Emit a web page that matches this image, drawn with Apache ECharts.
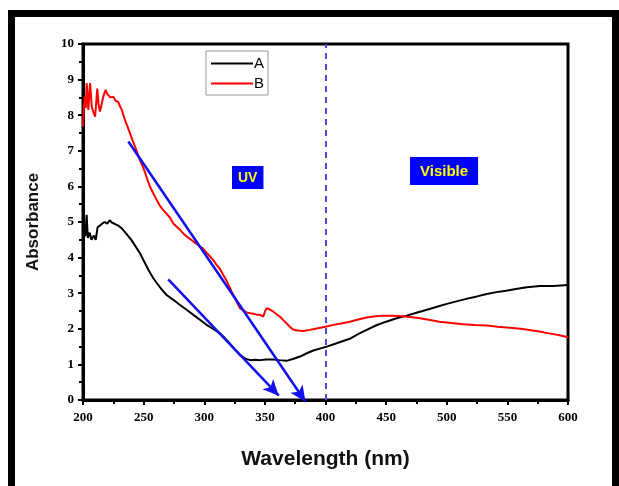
<!DOCTYPE html>
<html>
<head>
<meta charset="utf-8">
<script src="https://cdn.jsdelivr.net/npm/echarts@6/dist/echarts.min.js"></script>
<style>
  html, body { margin: 0; padding: 0; background: #fff; }
  #main { width: 619px; height: 486px; }
</style>
</head>
<body>
<div id="main"></div>
<script>
// curve A (black) - wavelength, absorbance
var curveA = [
  [200, 4.45], [201, 4.75], [202, 4.6], [203, 5.2], [204, 4.55], [205.5, 4.7], [207, 4.5],
  [209, 4.62], [210.5, 4.5], [212, 4.85], [214, 4.9], [216, 4.96], [218, 5.0], [220, 4.95],
  [222, 5.05], [224, 4.98], [226, 4.95], [229, 4.9], [232, 4.82], [236, 4.66], [240, 4.49],
  [244, 4.28], [247, 4.12], [250, 3.92], [254, 3.65], [258, 3.42], [261, 3.28], [265, 3.1],
  [269, 2.95], [275, 2.8], [280, 2.67], [286, 2.52], [291, 2.39], [297, 2.24], [302, 2.11],
  [308, 1.98], [313, 1.87], [317, 1.74], [321, 1.59], [325, 1.43], [329.5, 1.26], [334, 1.16],
  [338, 1.12], [342, 1.13], [346, 1.12], [351, 1.14], [357, 1.14], [362, 1.12], [368, 1.1],
  [373, 1.15], [379, 1.22], [385, 1.32], [390, 1.39], [396, 1.45], [401, 1.5], [408, 1.58],
  [414, 1.65], [420, 1.72], [428, 1.87], [434, 1.97], [442, 2.1], [450, 2.2], [458, 2.29],
  [467, 2.37], [475, 2.45], [483, 2.53], [492, 2.62], [500, 2.7], [508, 2.77], [516, 2.84],
  [525, 2.91], [533, 2.98], [541, 3.03], [549, 3.07], [557, 3.12], [566, 3.17], [577, 3.2],
  [588, 3.2], [600, 3.23]
];
// curve B (red)
var curveB = [
  [200, 7.68], [200.8, 8.3], [201.6, 8.52], [202.3, 8.2], [203, 8.9], [203.7, 8.6], [204.4, 8.15],
  [205.1, 8.5], [205.8, 8.9], [206.5, 8.6], [207.2, 8.24], [208.4, 8.1], [210, 7.96], [211, 8.4],
  [211.8, 8.75], [212.8, 8.3], [214, 8.1], [215.3, 8.3], [216.7, 8.52], [218, 8.65], [218.7, 8.71],
  [220, 8.6], [220.9, 8.61], [222.5, 8.5], [224, 8.45], [225, 8.52], [227, 8.4], [229, 8.38],
  [230.5, 8.25], [232, 8.15], [233.5, 7.98], [234.6, 7.87], [236.5, 7.7], [238.8, 7.49],
  [240.8, 7.3], [242.9, 7.12], [245, 6.92], [247, 6.74], [249, 6.58], [251, 6.41], [253, 6.2],
  [255.3, 5.99], [258, 5.8], [260.8, 5.62], [263.5, 5.45], [266, 5.34], [268.5, 5.25],
  [271.8, 5.12], [274.5, 4.96], [277.5, 4.86], [280, 4.78], [282.7, 4.68], [286, 4.58],
  [288.5, 4.52], [291, 4.45], [294, 4.38], [296.5, 4.3], [299, 4.26], [301.5, 4.15],
  [304, 4.06], [307.5, 3.93], [310, 3.8], [313, 3.68], [315.7, 3.51], [318, 3.38], [320.5, 3.2],
  [322.6, 3.04], [325, 2.88], [327.5, 2.7], [329.5, 2.58], [332, 2.52], [335, 2.46],
  [337.7, 2.44], [340.5, 2.42], [343, 2.4], [346, 2.39], [348.7, 2.34], [350.2, 2.5],
  [351.5, 2.58], [353.5, 2.55], [357, 2.48], [360, 2.4], [362.5, 2.34], [365, 2.25],
  [368, 2.15], [371, 2.04], [373.4, 1.98], [377, 1.95], [381.7, 1.94], [387, 1.97],
  [392.7, 2.01], [400, 2.06], [406.4, 2.11], [413, 2.15], [420, 2.2], [427, 2.26], [434, 2.32],
  [441, 2.35], [447.7, 2.37], [454, 2.37], [461, 2.36], [468, 2.34], [475, 2.31], [484, 2.26],
  [494, 2.2], [504, 2.16], [513.6, 2.13], [523, 2.11], [533, 2.09], [542, 2.06], [552, 2.03],
  [561, 2], [571, 1.95], [580, 1.9], [588, 1.85], [594, 1.81], [600, 1.76]
];
// blue guide arrows: start, end
var arrowLong = [[237.4, 7.26], [383.5, -0.05]];
var arrowShort = [[270.3, 3.39], [361.5, 0.12]];
var uvBoundary = 400;
var xTicks = { min: 200, max: 600, step: 50 };
var yTicks = { min: 0, max: 10, step: 1 };

var chart = echarts.init(document.getElementById('main'));

var tickLabel = {
  color: '#000',
  fontFamily: '"Liberation Serif", "Times New Roman", serif',
  fontWeight: 'bold',
  fontSize: 13
};

function arrowData(pts, rot) {
  return [
    { value: pts[0] },
    { value: pts[1], symbol: 'arrow', symbolSize: [11, 16], symbolRotate: rot || 0, itemStyle: { color: '#1010ee' } }
  ];
}

function arrowSeries(name, pts) {
  return {
    name: name,
    type: 'line',
    clip: false,
    silent: true,
    symbol: 'none',
    lineStyle: { color: '#1010ee', width: 2.5 },
    data: arrowData(pts),
    z: 5
  };
}

var option = {
  animation: false,
  backgroundColor: '#fff',
  grid: {
    left: 83, top: 44, right: 51, bottom: 86,
    show: true,
    borderColor: '#000',
    borderWidth: 3
  },
  legend: {
    data: [{ name: 'A', icon: 'rect' }, { name: 'B', icon: 'rect' }],
    orient: 'vertical',
    left: 206,
    top: 51,
    itemWidth: 42,
    itemHeight: 2,
    itemGap: 5,
    padding: [5, 4, 4, 5],
    borderColor: '#999',
    borderWidth: 1,
    textStyle: { fontFamily: 'Liberation Sans, Arial, sans-serif', fontSize: 15, color: '#000', padding: [0, 0, 0, -4] }
  },
  xAxis: {
    type: 'value',
    min: xTicks.min, max: xTicks.max, interval: xTicks.step,
    name: 'Wavelength (nm)',
    nameLocation: 'middle',
    nameGap: 49,
    nameTextStyle: { fontFamily: 'Liberation Sans, Arial, sans-serif', fontWeight: 'bold', fontSize: 21, color: '#111' },
    axisLine: { lineStyle: { color: '#000', width: 3 } },
    axisTick: { inside: false, length: 5, lineStyle: { color: '#000', width: 2 } },
    minorTick: { show: true, splitNumber: 2, length: 4, lineStyle: { color: '#000', width: 2 } },
    axisLabel: Object.assign({ margin: 11 }, tickLabel),
    splitLine: { show: false }
  },
  yAxis: {
    type: 'value',
    min: yTicks.min, max: yTicks.max, interval: yTicks.step,
    name: 'Absorbance',
    nameLocation: 'middle',
    nameGap: 41,
    nameTextStyle: { fontFamily: 'Liberation Sans, Arial, sans-serif', fontWeight: 'bold', fontSize: 17, color: '#111' },
    axisLine: { lineStyle: { color: '#000', width: 3 } },
    axisTick: { inside: false, length: 5, lineStyle: { color: '#000', width: 2 } },
    minorTick: { show: true, splitNumber: 2, length: 4, lineStyle: { color: '#000', width: 2 } },
    axisLabel: Object.assign({ margin: 9 }, tickLabel),
    splitLine: { show: false }
  },
  graphic: [
    {
      type: 'rect', silent: true, z: 100,
      shape: { x: 11.5, y: 13.5, width: 604, height: 500 },
      style: { fill: 'none', stroke: '#000', lineWidth: 7 }
    },
    {
      type: 'text', left: 232, top: 166, z: 50,
      style: {
        text: 'UV', fill: '#ffff00', font: 'bold 14px "Liberation Sans", Arial, sans-serif',
        backgroundColor: '#0000ff', padding: [5, 6, 4, 6]
      }
    },
    {
      type: 'text', left: 410, top: 157, z: 50,
      style: {
        text: 'Visible', fill: '#ffff00', font: 'bold 15px "Liberation Sans", Arial, sans-serif',
        backgroundColor: '#0000ff', padding: [7, 10, 6, 10]
      }
    }
  ],
  series: [
    {
      name: 'A', type: 'line', symbol: 'none', color: '#000',
      lineStyle: { color: '#000', width: 2 },
      data: curveA, z: 3,
      markLine: {
        silent: true, symbol: 'none', label: { show: false },
        lineStyle: { color: '#4a4ad8', type: [6, 5], width: 2 },
        data: [{ xAxis: uvBoundary }]
      }
    },
    {
      name: 'B', type: 'line', symbol: 'none', color: '#ff0000',
      lineStyle: { color: '#ff0000', width: 2 },
      data: curveB, z: 3
    },
    arrowSeries('arrow1', arrowLong),
    arrowSeries('arrow2', arrowShort)
  ]
};

chart.setOption(option);

// rotate the arrow heads along their lines
function headRotation(pts) {
  var p0 = chart.convertToPixel({ gridIndex: 0 }, pts[0]);
  var p1 = chart.convertToPixel({ gridIndex: 0 }, pts[1]);
  return Math.atan2(-(p1[0] - p0[0]), -(p1[1] - p0[1])) * 180 / Math.PI;
}
chart.setOption({
  series: [
    {}, {},
    { data: arrowData(arrowLong, headRotation(arrowLong)) },
    { data: arrowData(arrowShort, headRotation(arrowShort)) }
  ]
});
</script>
</body>
</html>
